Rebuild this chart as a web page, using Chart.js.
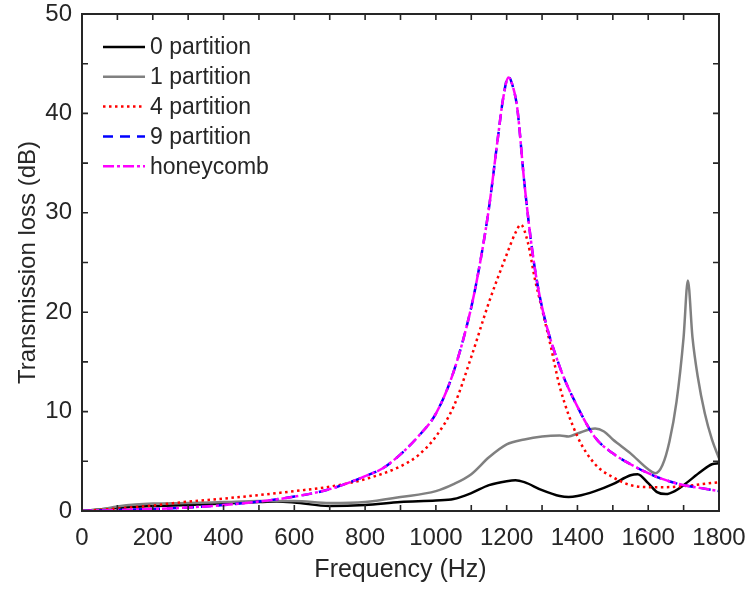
<!DOCTYPE html>
<html>
<head>
<meta charset="utf-8">
<script src="https://cdn.jsdelivr.net/npm/chart.js@4.4.0/dist/chart.umd.min.js"></script>
<style>
  html, body { margin: 0; padding: 0; background: #fff; }
  #wrap { width: 753px; height: 593px; }
</style>
</head>
<body>
<div id="wrap"><canvas id="tlChart"></canvas></div>
<script>
// values, frequency in Hz, TL in dB
var freq0 = [0, 100, 200, 300, 400, 500, 550, 600, 700, 800, 900, 1000, 1050, 1100, 1150, 1200, 1225, 1250, 1300, 1350, 1375, 1400, 1450, 1500, 1550, 1570, 1600, 1625, 1650, 1675, 1700, 1750, 1780, 1800];
var tl0   = [0, 0.3, 0.5, 0.6, 0.75, 0.9, 0.95, 0.85, 0.5, 0.6, 0.9, 1.05, 1.2, 1.8, 2.6, 3.0, 3.1, 2.9, 2.1, 1.5, 1.4, 1.5, 2.0, 2.7, 3.6, 3.7, 2.8, 1.9, 1.7, 2.0, 2.6, 4.0, 4.7, 4.8];

var freq1 = [0, 50, 100, 150, 200, 300, 400, 500, 600, 700, 800, 900, 1000, 1050, 1100, 1150, 1200, 1250, 1300, 1350, 1375, 1400, 1450, 1475, 1500, 1550, 1600, 1620, 1640, 1660, 1680, 1700, 1712, 1725, 1740, 1760, 1780, 1800];
var tl1   = [0, 0.15, 0.45, 0.65, 0.75, 0.8, 0.9, 1.0, 1.0, 0.8, 0.9, 1.4, 2.0, 2.7, 3.7, 5.4, 6.7, 7.2, 7.5, 7.6, 7.5, 7.8, 8.3, 8.0, 7.2, 5.8, 4.2, 3.8, 4.6, 7.0, 11, 17.5, 23.2, 17.5, 13.5, 9.8, 7.2, 5.3];

var freq4 = [0, 100, 200, 300, 400, 500, 600, 700, 800, 900, 950, 1000, 1050, 1100, 1150, 1200, 1225, 1240, 1260, 1280, 1300, 1325, 1350, 1400, 1450, 1500, 1550, 1600, 1650, 1700, 1750, 1800];
var tl4   = [0, 0.25, 0.55, 0.95, 1.25, 1.6, 2.0, 2.45, 3.2, 4.5, 5.6, 7.5, 10.5, 15.5, 21, 25.8, 28, 28.8, 27, 23.3, 20.3, 16.5, 12.5, 7.5, 4.7, 3.4, 2.6, 2.4, 2.4, 2.5, 2.7, 2.9];

var freq9 = [0, 100, 200, 300, 400, 500, 600, 700, 800, 850, 900, 950, 1000, 1050, 1100, 1125, 1150, 1175, 1190, 1205, 1215, 1230, 1250, 1275, 1300, 1350, 1400, 1450, 1500, 1550, 1600, 1650, 1700, 1750, 1800];
var tl9   = [0, 0.1, 0.2, 0.35, 0.6, 0.95, 1.45, 2.2, 3.5, 4.3, 5.7, 7.5, 9.8, 14, 20.5, 25, 30.5, 37.5, 41.5, 43.7, 43, 40.5, 33, 25.5, 20.5, 14.5, 10.5, 7.4, 5.8, 4.7, 3.8, 3.1, 2.6, 2.3, 2.0];

var freqHc = freq9;
var tlHc   = [0, 0.1, 0.2, 0.35, 0.6, 0.95, 1.45, 2.2, 3.5, 4.3, 5.7, 7.5, 9.8, 14, 20.5, 25, 30.5, 37.5, 41.5, 43.6, 43, 40.5, 33, 25.5, 20.5, 14.5, 10.5, 7.4, 5.8, 4.7, 3.8, 3.1, 2.6, 2.3, 2.0];

var seriesNames = ['0 partition', '1 partition', '4 partition', '9 partition', 'honeycomb'];
var xTicks = [0, 200, 400, 600, 800, 1000, 1200, 1400, 1600, 1800];
var yTicks = [0, 10, 20, 30, 40, 50];

var axisColor = '#262626';
var fontFam = '"Liberation Sans", Arial, sans-serif';

function toPoints(xs, ys){
    var pts = [];
    for (var i = 0; i < xs.length; i++) pts.push({x: xs[i], y: ys[i]});
    return pts;
}

function makeSet(label, xs, ys, color, dash, order){
    return {
        label: label,
        data: toPoints(xs, ys),
        borderColor: color,
        backgroundColor: color,
        borderWidth: 2.5,
        borderDash: dash,
        pointRadius: 0,
        fill: false,
        cubicInterpolationMode: 'monotone',
        order: order
    };
}

// inside ticks on all four sides + box frame
var boxTicks = {
    id: 'boxTicks',
    afterDraw: function(chart){
        var ctx = chart.ctx, a = chart.chartArea;
        var xs = chart.scales.x, ys = chart.scales.y;
        ctx.save();
        ctx.strokeStyle = axisColor;
        ctx.lineWidth = 1.6;
        ctx.setLineDash([]);
        ctx.beginPath();
        for (var v = 100; v < 1800; v += 100){
            var px = xs.getPixelForValue(v);
            ctx.moveTo(px, a.bottom); ctx.lineTo(px, a.bottom - 6);
            ctx.moveTo(px, a.top); ctx.lineTo(px, a.top + 6);
        }
        for (var w = 5; w < 50; w += 5){
            var py = ys.getPixelForValue(w);
            ctx.moveTo(a.left, py); ctx.lineTo(a.left + 6, py);
            ctx.moveTo(a.right, py); ctx.lineTo(a.right - 6, py);
        }
        ctx.stroke();
        ctx.lineWidth = 2;
        ctx.strokeRect(a.left, a.top, a.right - a.left, a.bottom - a.top);
        ctx.restore();
    }
};

// legend drawn inside the plot, upper left
var innerLegend = {
    id: 'innerLegend',
    afterDraw: function(chart){
        var ctx = chart.ctx;
        var sets = chart.data.datasets;
        ctx.save();
        ctx.font = '23px ' + fontFam;
        ctx.textBaseline = 'middle';
        for (var i = 0; i < sets.length; i++){
            var y = 47 + i * 29.8;
            ctx.strokeStyle = sets[i].borderColor;
            ctx.lineWidth = 2.5;
            ctx.setLineDash(sets[i].borderDash || []);
            ctx.beginPath();
            ctx.moveTo(103, y); ctx.lineTo(145, y);
            ctx.stroke();
            ctx.setLineDash([]);
            ctx.fillStyle = axisColor;
            ctx.fillText(sets[i].label, 150, y + 1);
        }
        ctx.restore();
    }
};

new Chart(document.getElementById('tlChart'), {
    type: 'line',
    data: {
        datasets: [
            makeSet(seriesNames[0], freq0, tl0, '#000000', [], 4),
            makeSet(seriesNames[1], freq1, tl1, '#808080', [], 3),
            makeSet(seriesNames[2], freq4, tl4, '#ff0000', [2.5, 3.5], 2),
            makeSet(seriesNames[3], freq9, tl9, '#0000ff', [10, 7], 1),
            makeSet(seriesNames[4], freqHc, tlHc, '#ff00ff', [11, 3, 3, 3], 0)
        ]
    },
    options: {
        responsive: true,
        maintainAspectRatio: false,
        animation: false,
        layout: { padding: { left: 14, right: 34, top: 14, bottom: 8 } },
        plugins: { legend: { display: false }, tooltip: { enabled: false } },
        scales: {
            x: {
                type: 'linear',
                min: 0, max: 1800,
                afterBuildTicks: function(s){ s.ticks = xTicks.map(function(v){ return {value: v}; }); },
                afterFit: function(s){ s.height = 74; s.paddingLeft = 0; s.paddingRight = 0; },
                grid: { display: false, drawTicks: false },
                border: { display: false },
                ticks: {
                    color: axisColor, padding: 13,
                    font: { family: fontFam, size: 24 },
                    maxRotation: 0, autoSkip: false,
                    callback: function(v){ return String(v); }
                },
                title: {
                    display: true, text: 'Frequency (Hz)', color: axisColor,
                    font: { family: fontFam, size: 25 }, padding: 0
                }
            },
            y: {
                min: 0, max: 50,
                afterBuildTicks: function(s){ s.ticks = yTicks.map(function(v){ return {value: v}; }); },
                afterFit: function(s){ s.width = 68; s.paddingTop = 0; s.paddingBottom = 0; },
                grid: { display: false, drawTicks: false },
                border: { display: false },
                ticks: {
                    color: axisColor, padding: 10,
                    font: { family: fontFam, size: 24 },
                    callback: function(v){ return String(v); }
                },
                title: {
                    display: true, text: 'Transmission loss (dB)', color: axisColor,
                    font: { family: fontFam, size: 24 }, padding: 0
                }
            }
        }
    },
    plugins: [boxTicks, innerLegend]
});
</script>
</body>
</html>
